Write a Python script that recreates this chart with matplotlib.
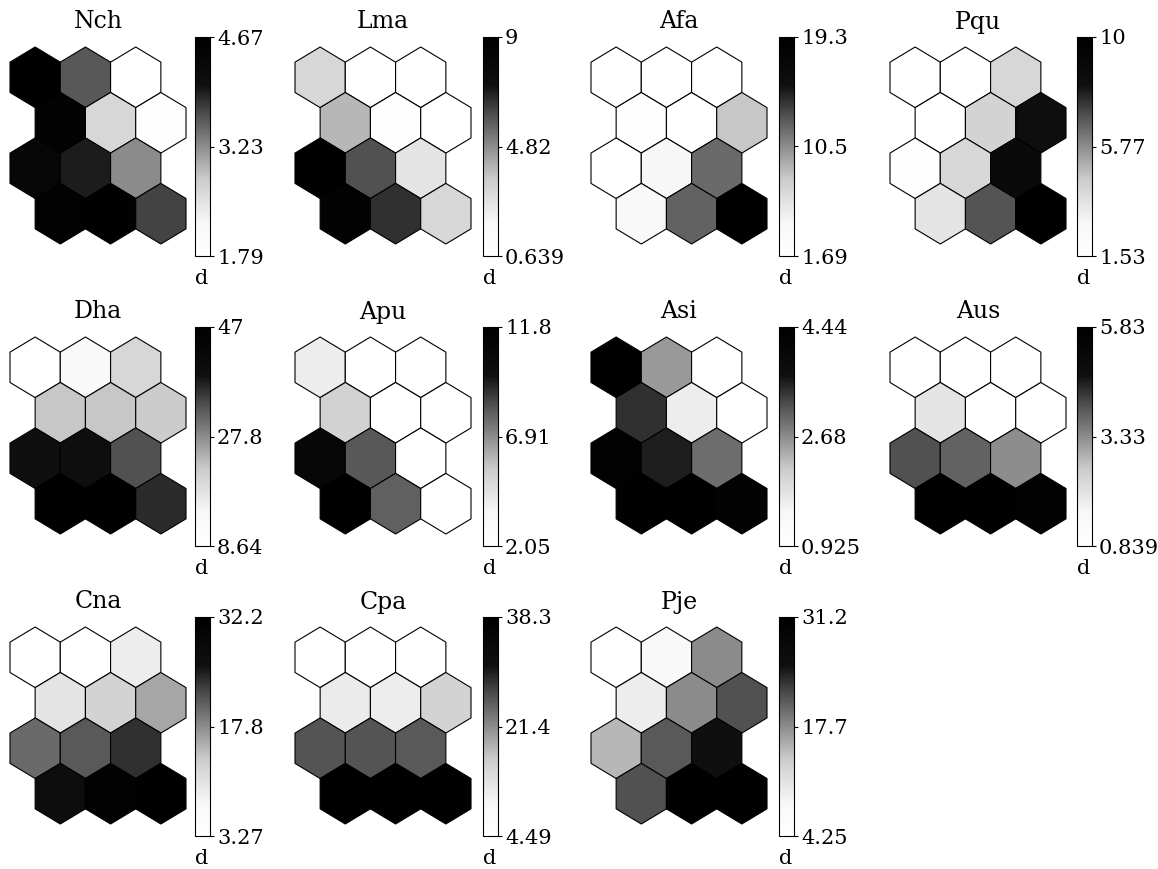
import numpy as np
import matplotlib
matplotlib.use("Agg")
import matplotlib.pyplot as plt
from matplotlib.patches import RegularPolygon
from matplotlib.colors import LinearSegmentedColormap, Normalize
from matplotlib.cm import ScalarMappable

plt.rcParams['font.family'] = ['DejaVu Serif']

# component names, colour ranges and hex values (4 rows x 3 columns, top row first)
names = ["Nch", "Lma", "Afa", "Pqu", "Dha", "Apu", "Asi", "Aus", "Cna", "Cpa", "Pje"]
vmins = [1.79, 0.639, 1.69, 1.535, 8.64, 2.046, 0.925, 0.839, 3.274, 4.49, 4.25]
vmaxs = [4.67, 9.0, 19.3, 10.0, 47.0, 11.77, 4.44, 5.83, 32.24, 38.3, 31.2]

nch = [[4.67, 3.58, 1.79], [4.53, 2.65, 1.85], [4.38, 3.95, 3.23], [4.58, 4.61, 3.72]]
lma = [[3.15, 0.639, 0.72], [3.98, 0.81, 0.639], [9.0, 5.99, 2.65], [8.58, 6.58, 3.15]]
afa = [[1.69, 1.69, 1.69], [2.04, 1.87, 8.03], [1.87, 4.33, 11.9], [3.80, 12.26, 19.3]]
pqu = [[1.535, 1.535, 4.07], [1.61, 4.24, 8.31], [1.70, 4.07, 8.73], [3.56, 6.87, 10.0]]
dha = [[8.64, 13.24, 20.15], [22.45, 22.45, 22.07], [38.56, 39.33, 33.19], [47.0, 46.23, 36.26]]
apu = [[4.0, 2.05, 2.05], [5.17, 2.15, 2.05], [10.83, 8.10, 2.15], [11.77, 7.9, 2.05]]
asi = [[4.44, 2.58, 0.925], [3.42, 1.63, 0.96], [4.33, 3.56, 2.93], [4.37, 4.40, 4.30]]
aus = [[0.839, 0.839, 0.839], [2.04, 0.89, 0.839], [4.03, 3.83, 3.33], [5.83, 5.73, 5.68]]
cna = [[3.27, 3.27, 9.06], [10.21, 12.53, 16.0], [20.05, 21.2, 23.81], [26.99, 31.33, 32.2]]
cpa = [[4.49, 4.49, 4.83], [11.59, 11.25, 15.31], [25.79, 25.79, 25.45], [38.3, 37.62, 37.96]]
pje = [[4.25, 7.48, 17.73], [9.64, 17.73, 21.5], [15.03, 20.96, 25.27], [21.5, 31.2, 30.66]]
planes = [nch, lma, afa, pqu, dha, apu, asi, aus, cna, cpa, pje]

# printed grey scale: white low end, black top third
cmap = LinearSegmentedColormap.from_list("print_gray", [
    (0.0, (1.0, 1.0, 1.0)),
    (0.15, (0.97, 0.97, 0.97)),
    (0.35, (0.80, 0.80, 0.80)),
    (0.50, (0.55, 0.55, 0.55)),
    (0.65, (0.30, 0.30, 0.30)),
    (0.78, (0.06, 0.06, 0.06)),
    (1.0, (0.0, 0.0, 0.0)),
])

W, H = 1158, 869
fig = plt.figure(figsize=(W / 100, H / 100), dpi=100)

hex_left = [10, 295, 591, 890]
cbar_left = [195, 483, 779, 1077]
row_top = [0, 290, 580]

R = 1 / np.sqrt(3)
dy = 1.5 * R


def px_axes(x0, y0, w, h):
    return fig.add_axes([x0 / W, 1 - (y0 + h) / H, w / W, h / H])


for k, name in enumerate(names):
    r, c = divmod(k, 4)
    top = row_top[r]
    vals = np.array(planes[k])
    norm = Normalize(vmins[k], vmaxs[k])

    ax = px_axes(hex_left[c], top + 47, 176, 197)
    for i in range(vals.shape[0]):
        for j in range(vals.shape[1]):
            cx = j + 0.5 * (i % 2)
            cy = -i * dy
            ax.add_patch(RegularPolygon((cx, cy), 6, radius=R,
                                        facecolor=cmap(norm(vals[i, j])),
                                        edgecolor="black", linewidth=0.8,
                                        clip_on=False))
    ax.set_xlim(-0.5, 3.0)
    ax.set_ylim(-3 * dy - R, R)
    ax.axis("off")

    fig.text((hex_left[c] + 88) / W, 1 - (top + 22) / H, name,
             ha="center", va="center", fontsize=17)

    cax = px_axes(cbar_left[c], top + 37, 15, 219)
    mid = (vmins[k] + vmaxs[k]) / 2
    cb = fig.colorbar(ScalarMappable(norm=norm, cmap=cmap), cax=cax,
                      ticks=[vmins[k], mid, vmaxs[k]])
    cb.ax.set_yticklabels(["%.3g" % v for v in (vmins[k], mid, vmaxs[k])])
    cb.ax.tick_params(labelsize=15, length=3, width=0.8, pad=2)
    cb.outline.set_linewidth(0.8)

    fig.text((cbar_left[c] + 7) / W, 1 - (top + 278) / H, "d",
             ha="center", va="center", fontsize=15)

fig.savefig("out.png", dpi=100)
